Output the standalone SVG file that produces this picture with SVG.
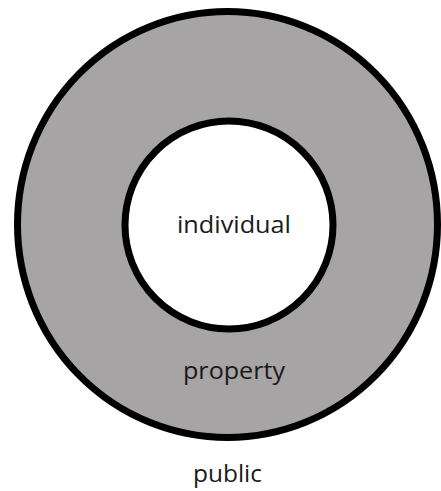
<svg xmlns="http://www.w3.org/2000/svg" width="441" height="491" viewBox="0 0 441 491">
<style>
.ring{stroke:#000;stroke-width:7}
.lbl{font-family:"Open Sans","Liberation Sans",sans-serif;font-size:23px;font-weight:500;fill:#1a1a1a;text-anchor:middle}
</style>
<rect width="441" height="491" fill="#fff"/>
<g id="public">
<ellipse class="ring" cx="227.5" cy="224.5" rx="210" ry="213" fill="#a6a4a5"/>
<text class="lbl" x="227.5" y="482" textLength="69" lengthAdjust="spacingAndGlyphs">public</text>
</g>
<g id="property">
<text class="lbl" x="234" y="379" textLength="102" lengthAdjust="spacingAndGlyphs">property</text>
</g>
<g id="individual">
<circle class="ring" cx="229" cy="225" r="104" fill="#fff"/>
<text class="lbl" x="234" y="233" textLength="114" lengthAdjust="spacingAndGlyphs">individual</text>
</g>
<g id="connectors"/>
</svg>
